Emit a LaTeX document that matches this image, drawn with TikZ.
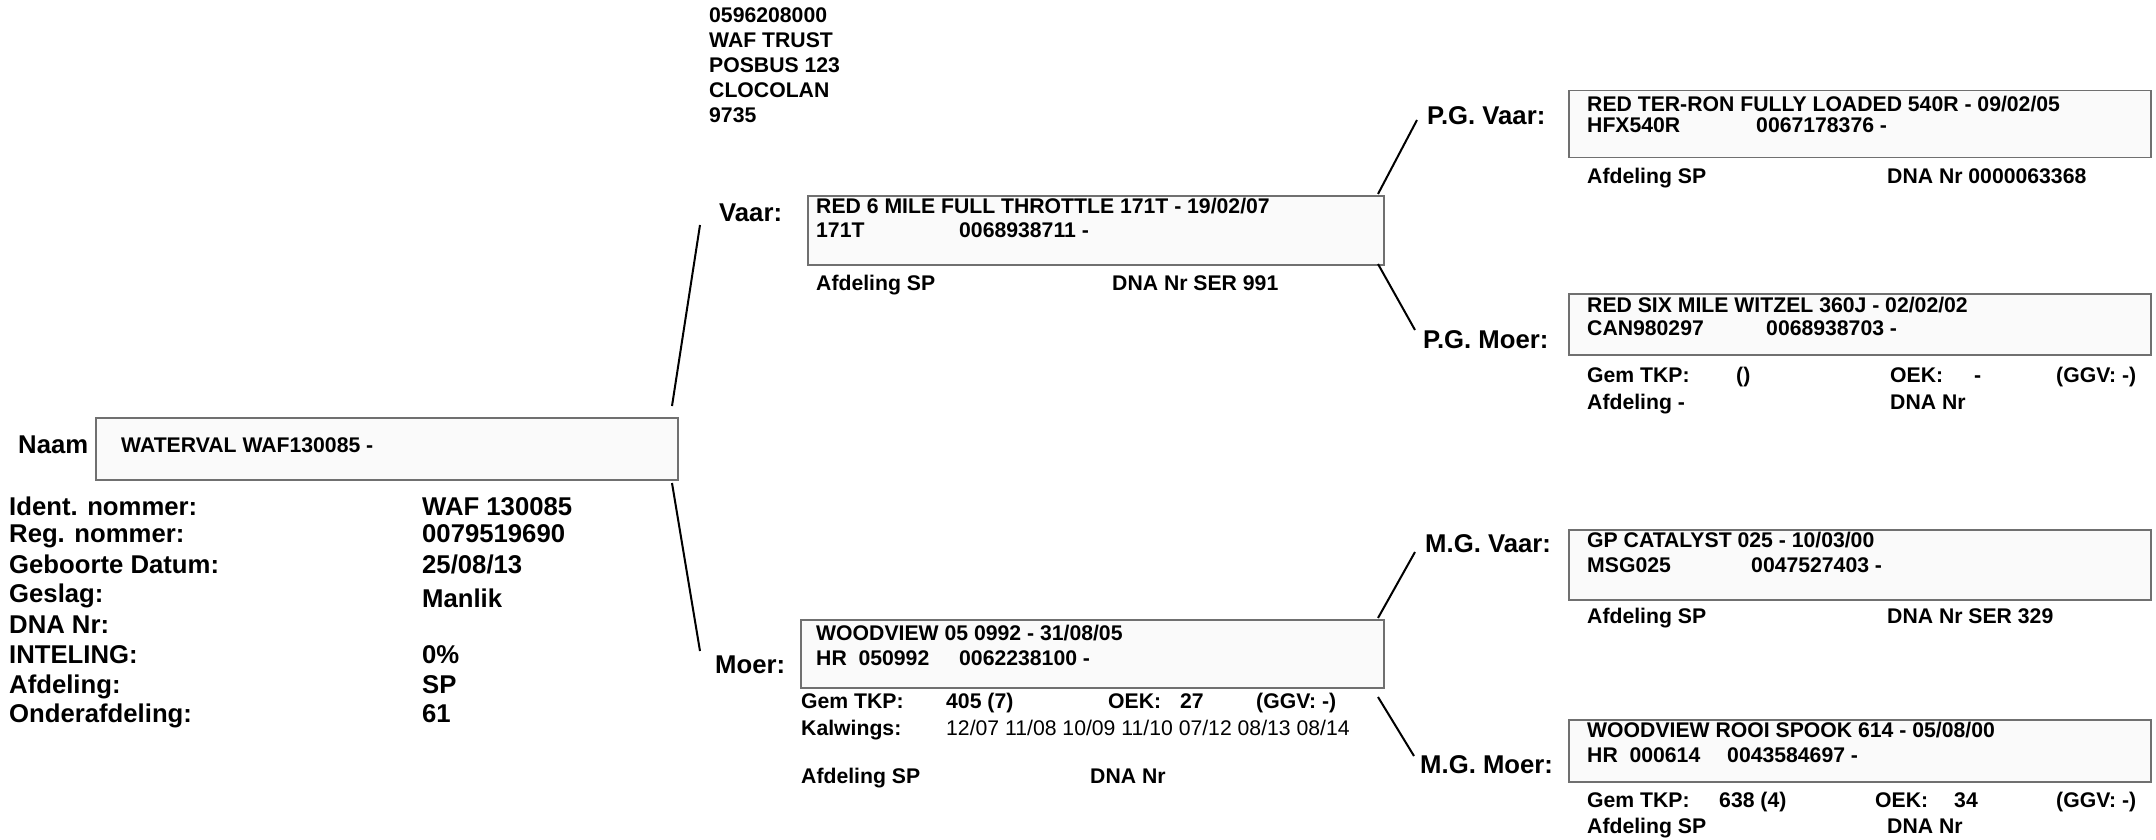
\documentclass[tikz,border=0pt]{standalone}
\usepackage{fontspec}
\setmainfont{Liberation Sans}
\usetikzlibrary{positioning}
\definecolor{CardFill}{RGB}{250,250,250}
\definecolor{CardEdge}{RGB}{112,112,112}

\begin{document}
\begin{tikzpicture}[x=1pt,y=-1pt,
    lbl/.style={anchor=base west,inner sep=0pt,font=\fontsize{25.7}{30}\selectfont\bfseries},
    txt/.style={anchor=base west,inner sep=0pt,font=\fontsize{21.2}{25}\selectfont\bfseries},
    thin/.style={anchor=base west,inner sep=0pt,font=\fontsize{21.2}{25}\selectfont},
    card/.style={draw=CardEdge,fill=CardFill,line width=1.5pt,anchor=north west,inner sep=0pt},
    link/.style={line width=2pt}]
    \useasboundingbox (0,0) rectangle (2156,840);

    % owner address
    \node[txt] (adr1) at (709,23) {0596208000};
    \node[txt] (adr2) at (709,48) {WAF TRUST};
    \node[txt] (adr3) at (709,73) {POSBUS 123};
    \node[txt] (adr4) at (709,98) {CLOCOLAN};
    \node[txt] (adr5) at (709,123) {9735};

    % animal
    \node[lbl] (naamlab) at (18,453) {Naam};
    \node[card,minimum width=582pt,minimum height=62pt] (naambox) at (95,417) {};
    \node[txt] (naamtxt) at (121,452) {WATERVAL WAF130085 -};
    \node[lbl] (identlab) at (9,515) {Ident. nommer:};
    \node[lbl] (identval) at (422,515) {WAF 130085};
    \node[lbl] (reglab) at (9,542) {Reg. nommer:};
    \node[lbl] (regval) at (422,542) {0079519690};
    \node[lbl] (gebolab) at (9,573) {Geboorte Datum:};
    \node[lbl] (geboval) at (422,573) {25/08/13};
    \node[lbl] (geslab) at (9,602) {Geslag:};
    \node[lbl] (gesval) at (422,607) {Manlik};
    \node[lbl] (dnalab) at (9,633) {DNA Nr:};
    \node[lbl] (intlab) at (9,663) {INTELING:};
    \node[lbl] (intval) at (422,663) {0\%};
    \node[lbl] (afdlab) at (9,693) {Afdeling:};
    \node[lbl] (afdval) at (422,693) {SP};
    \node[lbl] (ondlab) at (9,722) {Onderafdeling:};
    \node[lbl] (ondval) at (422,722) {61};

    % vaar
    \node[lbl] (vaarlab) at (719,222) {Vaar:};
    \node[card,minimum width=576pt,minimum height=69pt] (vaarbox) at (807,195) {};
    \node[txt] (vaarname) at (816,213) {RED 6 MILE FULL THROTTLE 171T - 19/02/07};
    \node[txt] (vaarid) at (816,237) {171T};
    \node[txt] (vaarreg) at (959,237) {0068938711 -};
    \node[txt] (vaarafd) at (816,290) {Afdeling SP};
    \node[txt] (vaardna) at (1112,290) {DNA Nr SER 991};

    % moer
    \node[lbl] (moerlab) at (715,673) {Moer:};
    \node[card,minimum width=583pt,minimum height=68pt] (moerbox) at (800,619) {};
    \node[txt] (moername) at (816,640) {WOODVIEW 05 0992 - 31/08/05};
    \node[txt] (moerid) at (816,665) {HR~~050992};
    \node[txt] (moerreg) at (959,665) {0062238100 -};
    \node[txt] (moertkp) at (801,708) {Gem TKP:};
    \node[txt] (moertkpv) at (946,708) {405 (7)};
    \node[txt] (moeroek) at (1108,708) {OEK:};
    \node[txt] (moeroekv) at (1180,708) {27};
    \node[txt] (moerggv) at (1256,708) {(GGV: -)};
    \node[txt] (moerkalf) at (801,735) {Kalwings:};
    \node[thin] (moerkalfv) at (946,735) {12/07 11/08 10/09 11/10 07/12 08/13 08/14};
    \node[txt] (moerafd) at (801,783) {Afdeling SP};
    \node[txt] (moerdna) at (1090,783) {DNA Nr};

    % p.g. vaar
    \node[lbl] (pgvlab) at (1427,125) {P.G. Vaar:};
    \node[card,minimum width=582pt,minimum height=67pt] (pgvbox) at (1568,90) {};
    \node[txt] (pgvname) at (1587,112) {RED TER-RON FULLY LOADED 540R - 09/02/05};
    \node[txt] (pgvid) at (1587,133) {HFX540R};
    \node[txt] (pgvreg) at (1756,133) {0067178376 -};
    \node[txt] (pgvafd) at (1587,183) {Afdeling SP};
    \node[txt] (pgvdna) at (1887,183) {DNA Nr 0000063368};

    % p.g. moer
    \node[lbl] (pgmlab) at (1423,348) {P.G. Moer:};
    \node[card,minimum width=582pt,minimum height=61pt] (pgmbox) at (1568,293) {};
    \node[txt] (pgmname) at (1587,312) {RED SIX MILE WITZEL 360J - 02/02/02};
    \node[txt] (pgmid) at (1587,335) {CAN980297};
    \node[txt] (pgmreg) at (1766,335) {0068938703 -};
    \node[txt] (pgmtkp) at (1587,382) {Gem TKP:};
    \node[txt] (pgmtkpv) at (1736,382) {()};
    \node[txt] (pgmoek) at (1890,382) {OEK:};
    \node[txt] (pgmoekv) at (1974,382) {-};
    \node[txt] (pgmggv) at (2056,382) {(GGV: -)};
    \node[txt] (pgmafd) at (1587,409) {Afdeling -};
    \node[txt] (pgmdna) at (1890,409) {DNA Nr};

    % m.g. vaar
    \node[lbl] (mgvlab) at (1425,552) {M.G. Vaar:};
    \node[card,minimum width=582pt,minimum height=70pt] (mgvbox) at (1568,529) {};
    \node[txt] (mgvname) at (1587,547) {GP CATALYST 025 - 10/03/00};
    \node[txt] (mgvid) at (1587,572) {MSG025};
    \node[txt] (mgvreg) at (1751,572) {0047527403 -};
    \node[txt] (mgvafd) at (1587,623) {Afdeling SP};
    \node[txt] (mgvdna) at (1887,623) {DNA Nr SER 329};

    % m.g. moer
    \node[lbl] (mgmlab) at (1420,773) {M.G. Moer:};
    \node[card,minimum width=582pt,minimum height=62pt] (mgmbox) at (1568,719) {};
    \node[txt] (mgmname) at (1587,737) {WOODVIEW ROOI SPOOK 614 - 05/08/00};
    \node[txt] (mgmid) at (1587,762) {HR~~000614};
    \node[txt] (mgmreg) at (1727,762) {0043584697 -};
    \node[txt] (mgmtkp) at (1587,807) {Gem TKP:};
    \node[txt] (mgmtkpv) at (1719,807) {638 (4)};
    \node[txt] (mgmoek) at (1875,807) {OEK:};
    \node[txt] (mgmoekv) at (1954,807) {34};
    \node[txt] (mgmggv) at (2056,807) {(GGV: -)};
    \node[txt] (mgmafd) at (1587,833) {Afdeling SP};
    \node[txt] (mgmdna) at (1887,833) {DNA Nr};

    % tree lines
    \coordinate (naamup) at (672,406);
    \coordinate (naamdown) at (672,483);
    \coordinate (vaarend) at (700,225);
    \coordinate (moerend) at (700,651);
    \coordinate (vaarup) at (1378,194);
    \coordinate (vaardown) at (1378,264);
    \coordinate (pgvend) at (1417,120);
    \coordinate (pgmend) at (1415,330);
    \coordinate (moerup) at (1378,618);
    \coordinate (moerdown) at (1378,697);
    \coordinate (mgvend) at (1415,552);
    \coordinate (mgmend) at (1414,756);
    \draw[link] (naamup) -- (vaarend);
    \draw[link] (naamdown) -- (moerend);
    \draw[link] (vaarup) -- (pgvend);
    \draw[link] (vaardown) -- (pgmend);
    \draw[link] (moerup) -- (mgvend);
    \draw[link] (moerdown) -- (mgmend);
\end{tikzpicture}
\end{document}
